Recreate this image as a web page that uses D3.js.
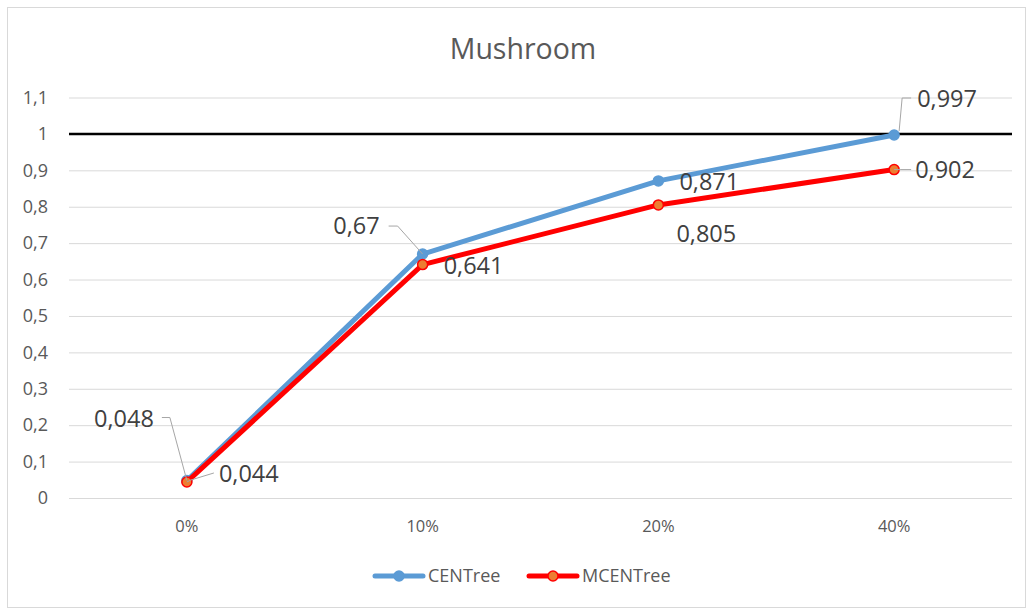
<!DOCTYPE html>
<html>
<head>
<meta charset="utf-8">
<script src="https://cdn.jsdelivr.net/npm/d3@7"></script>
<style>
  html, body { margin: 0; padding: 0; background: #fff; }
  svg { display: block; font-family: "Open Sans", "Noto Sans", sans-serif; }
</style>
</head>
<body>
<svg id="chart" width="1033" height="608"></svg>
<script>
// Categories (noise level) and the two series
const categories = ["0%", "10%", "20%", "40%"];
const centree = [0.048, 0.67, 0.871, 0.997];
const mcentree = [0.044, 0.641, 0.805, 0.902];
const yTicks = [0, 0.1, 0.2, 0.3, 0.4, 0.5, 0.6, 0.7, 0.8, 0.9, 1, 1.1];
const referenceValue = 1;

const title = "Mushroom";
const seriesNames = ["CENTree", "MCENTree"];

// Label placement per point: offsets from the marker, plus optional leader line
const centreeLabelPos = [
  { dx: -33, dy: -62, anchor: "end", leader: [[-17, -63], [-25, -63]] },
  { dx: -43, dy: -28, anchor: "end", leader: [[-25, -28], [-34, -28]] },
  { dx: 21, dy: 1, anchor: "start", leader: null },
  { dx: 23, dy: -36, anchor: "start", leader: [[5, -4], [8, -37], [17, -37]] }
];
const mcentreeLabelPos = [
  { dx: 32, dy: -8, anchor: "start", leader: [[4, -2], [27, -9]] },
  { dx: 21, dy: 1, anchor: "start", leader: null },
  { dx: 18, dy: 29, anchor: "start", leader: null },
  { dx: 21, dy: 0, anchor: "start", leader: [[6, 0], [17, 0]] }
];

const svg = d3.select("#chart");
const W = 1033, H = 608;

// Outer chart frame
svg.append("rect")
  .attr("x", 7.5).attr("y", 7.5)
  .attr("width", W - 15).attr("height", H - 8)
  .attr("fill", "#fff").attr("stroke", "#d9d9d9");

const x = d3.scaleBand().domain(categories).range([69, 1012]);
const y = d3.scaleLinear().domain([0, 1.1]).range([498, 97.5]);
const cx = c => x(c) + x.bandwidth() / 2;

// Title
svg.append("text")
  .attr("x", 523).attr("y", 59)
  .attr("text-anchor", "middle")
  .attr("font-size", 28.5)
  .attr("fill", "#595959")
  .text(title);

// Horizontal gridlines + y tick labels
const yAxis = d3.axisLeft(y)
  .tickValues(yTicks)
  .tickSize(-(1012 - 69))
  .tickPadding(21)
  .tickFormat(d => d3.format("~g")(d).replace(".", ","));
const gy = svg.append("g").attr("transform", "translate(69,0)").call(yAxis);
gy.attr("font-family", null).attr("font-size", null);
gy.select(".domain").remove();
gy.selectAll(".tick line").attr("stroke", "#d9d9d9").attr("stroke-width", 1);
gy.selectAll(".tick text")
  .attr("fill", "#595959")
  .attr("font-size", 18);

// x category labels
const xAxis = d3.axisBottom(x).tickSize(0).tickPadding(22);
const gx = svg.append("g").attr("transform", "translate(0,498)").call(xAxis);
gx.attr("font-family", null).attr("font-size", null);
gx.select(".domain").remove();
gx.selectAll(".tick text")
  .attr("fill", "#595959")
  .attr("font-size", 16.5);

// Reference line at 1
svg.append("line")
  .attr("x1", 69).attr("x2", 1012)
  .attr("y1", y(referenceValue)).attr("y2", y(referenceValue))
  .attr("stroke", "#000").attr("stroke-width", 2.5);

const line = d3.line().x((d, i) => cx(categories[i])).y(d => y(d));

function drawSeries(values, stroke, markerFill, markerStroke) {
  svg.append("path")
    .datum(values)
    .attr("d", line)
    .attr("fill", "none")
    .attr("stroke", stroke)
    .attr("stroke-width", 5)
    .attr("stroke-linejoin", "round")
    .attr("stroke-linecap", "round");
  svg.append("g").selectAll("circle")
    .data(values)
    .join("circle")
    .attr("cx", (d, i) => cx(categories[i]))
    .attr("cy", d => y(d))
    .attr("r", 5)
    .attr("fill", markerFill)
    .attr("stroke", markerStroke)
    .attr("stroke-width", 1.5);
}

drawSeries(centree, "#5b9bd5", "#5b9bd5", "#5b9bd5");
drawSeries(mcentree, "#ff0000", "#ed7d31", "#ff0000");

// Data labels with leader lines
function drawLabels(values, positions) {
  values.forEach((v, i) => {
    const px = cx(categories[i]), py = y(v);
    const p = positions[i];
    if (p.leader) {
      const pts = [[px, py]].concat(p.leader.map(([dx, dy]) => [px + dx, py + dy]));
      svg.append("path")
        .attr("d", d3.line()(pts.slice(p.leader.length > 2 ? 1 : 0)))
        .attr("fill", "none")
        .attr("stroke", "#a6a6a6")
        .attr("stroke-width", 1);
    }
    svg.append("text")
      .attr("x", px + p.dx)
      .attr("y", py + p.dy)
      .attr("dy", "0.35em")
      .attr("text-anchor", p.anchor)
      .attr("font-size", 23.5)
      .attr("fill", "#404040")
      .text(String(v).replace(".", ","));
  });
}
drawLabels(centree, centreeLabelPos);
drawLabels(mcentree, mcentreeLabelPos);

// Legend
const legend = [
  { name: seriesNames[0], x: 375, stroke: "#5b9bd5", fill: "#5b9bd5" },
  { name: seriesNames[1], x: 529, stroke: "#ff0000", fill: "#ed7d31" }
];
const lg = svg.append("g");
legend.forEach(l => {
  lg.append("line")
    .attr("x1", l.x).attr("x2", l.x + 48)
    .attr("y1", 576).attr("y2", 576)
    .attr("stroke", l.stroke).attr("stroke-width", 5)
    .attr("stroke-linecap", "round");
  lg.append("circle")
    .attr("cx", l.x + 24).attr("cy", 576).attr("r", 5)
    .attr("fill", l.fill).attr("stroke", l.stroke).attr("stroke-width", 1.5);
  lg.append("text")
    .attr("x", l.x + 53).attr("y", 576)
    .attr("dy", "0.35em")
    .attr("font-size", 18)
    .attr("fill", "#595959")
    .text(l.name);
});
</script>
</body>
</html>
